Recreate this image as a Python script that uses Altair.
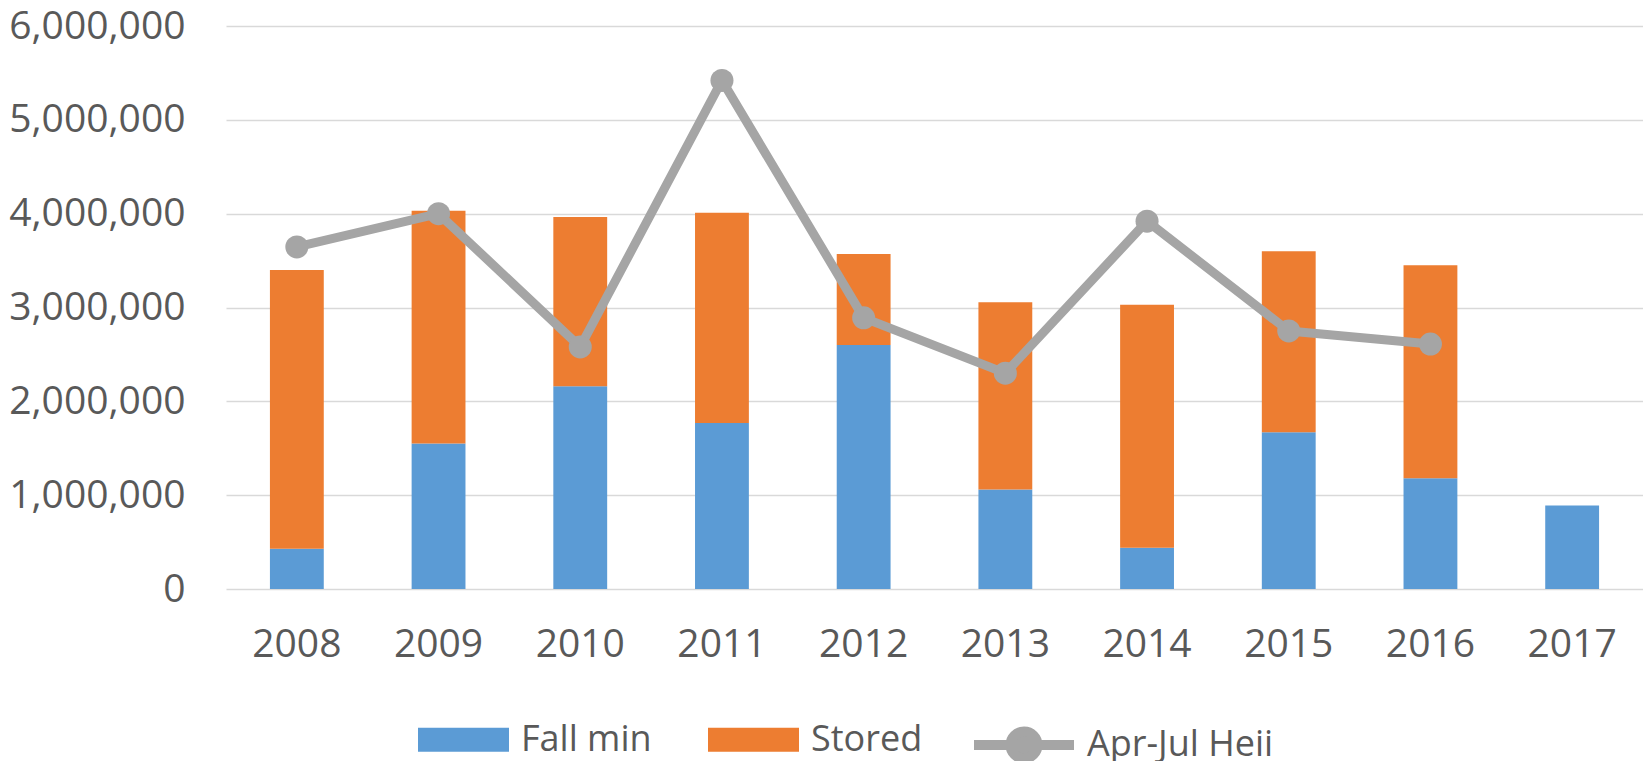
import altair as alt
import pandas as pd

years = ["2008", "2009", "2010", "2011", "2012", "2013", "2014", "2015", "2016", "2017"]
fall_min = [430000, 1550000, 2160000, 1770000, 2600000, 1060000, 440000, 1670000, 1180000, 890000]
stored = [2970000, 2480000, 1805000, 2240000, 970000, 1995000, 2590000, 1930000, 2270000, None]
apr_jul = [3645000, 4000000, 2580000, 5420000, 2890000, 2300000, 3920000, 2750000, 2610000, None]
bar_series = ["Fall min", "Stored"]
line_series = "Apr-Jul Heii"
bar_colors = ["#5B9BD5", "#ED7D31"]
line_color = "#A5A5A5"
y_ticks = [0, 1000000, 2000000, 3000000, 4000000, 5000000, 6000000]

rows = []
for i, yr in enumerate(years):
    rows.append({"year": yr, "series": bar_series[0], "value": fall_min[i], "order": 0})
    if stored[i] is not None:
        rows.append({"year": yr, "series": bar_series[1], "value": stored[i], "order": 1})
bars_df = pd.DataFrame(rows)

line_df = pd.DataFrame([
    {"year": yr, "series": line_series, "value": v}
    for yr, v in zip(years, apr_jul) if v is not None
])

FONT = "Open Sans"
LEG_FONT = "Open Sans"
TXT = "#595959"

RECT_PATH = "M-1,-0.264H1V0.264H-1Z"
LINE_PATH = "M-1,0H1M-0.27,0A0.27,0.27,0,1,0,0.27,0A0.27,0.27,0,1,0,-0.27,0Z"

x_axis = alt.Axis(title=None, labelAngle=0, ticks=False, domain=False, grid=False,
                  labelFont=FONT, labelFontSize=39, labelColor=TXT, labelPadding=36)
x_scale = alt.Scale(domain=years, paddingInner=0.62, paddingOuter=0.31)

y_axis = alt.Axis(title=None, values=y_ticks, format=",d", ticks=False, domain=False,
                  labelFont=FONT, labelFontSize=39, labelColor=TXT, labelPadding=41,
                  gridColor="#D9D9D9", gridWidth=1.5)
y_scale = alt.Scale(domain=[0, 6000000], nice=False)

bars = alt.Chart(bars_df).mark_bar(opacity=1).encode(
    x=alt.X("year:N", scale=x_scale, axis=x_axis),
    y=alt.Y("value:Q", stack="zero", scale=y_scale, axis=y_axis),
    color=alt.Color("series:N",
                    scale=alt.Scale(domain=bar_series, range=bar_colors),
                    legend=alt.Legend(title=None, orient="none", legendX=192, legendY=668,
                                      direction="horizontal", symbolType=RECT_PATH,
                                      symbolSize=8281, symbolStrokeWidth=0, symbolOpacity=1,
                                      labelFont=LEG_FONT, labelFontSize=36, labelColor=TXT,
                                      labelOffset=12, columnPadding=56, padding=0,
                                      labelLimit=400)),
    order=alt.Order("order:Q"),
)

line = alt.Chart(line_df).mark_line(strokeWidth=9, strokeJoin="round").encode(
    x=alt.X("year:N", scale=x_scale, axis=x_axis),
    y=alt.Y("value:Q", scale=y_scale, axis=y_axis),
    stroke=alt.Stroke("series:N",
                      scale=alt.Scale(domain=[line_series], range=[line_color]),
                      legend=alt.Legend(title=None, orient="none", legendX=743, legendY=664,
                                        direction="horizontal", symbolType=LINE_PATH,
                                        symbolSize=10000, symbolStrokeWidth=10,
                                        symbolFillColor=line_color,
                                        symbolStrokeColor=line_color, symbolOpacity=1,
                                        labelFont=LEG_FONT, labelFontSize=36, labelColor=TXT,
                                        labelOffset=8, padding=0, labelLimit=400)),
)

points = alt.Chart(line_df).mark_circle(size=530, color=line_color, opacity=1).encode(
    x=alt.X("year:N", scale=x_scale, axis=x_axis),
    y=alt.Y("value:Q", scale=y_scale, axis=y_axis),
)

chart = alt.layer(bars, line, points).properties(
    width=1417, height=563,
    autosize=alt.AutoSizeParams(type="none"),
    padding={"left": 218, "top": 18, "right": 0, "bottom": 172},
    background="white",
).configure_view(stroke=None)

chart.save("out.html", embed_options={"renderer": "svg", "actions": False})
